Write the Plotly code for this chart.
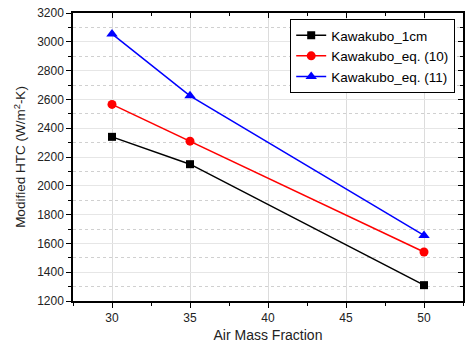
import plotly.graph_objects as go

air_mass_fraction = [30, 35, 50]
kawakubo_1cm = [2340, 2150, 1310]
kawakubo_eq10 = [2565, 2310, 1540]
kawakubo_eq11 = [3055, 2625, 1655]

series = [
    ("Kawakubo_1cm", kawakubo_1cm, "black", "square", 8),
    ("Kawakubo_eq. (10)", kawakubo_eq10, "red", "circle", 9),
    ("Kawakubo_eq. (11)", kawakubo_eq11, "blue", "triangle-up", 10),
]

fig = go.Figure()
for name, vals, col, sym, sz in series:
    fig.add_trace(go.Scatter(
        x=air_mass_fraction, y=vals, name=name, mode="lines+markers",
        line=dict(color=col, width=1.5),
        marker=dict(symbol=sym, size=sz, color=col),
    ))

font = "Liberation Sans, Arial, sans-serif"
xr = [27.5, 52.5]
yr = [1200, 3200]

fig.update_layout(
    template="none",
    width=465, height=344,
    margin=dict(l=73, r=2, t=13, b=43, autoexpand=False),
    paper_bgcolor="white", plot_bgcolor="white",
    font=dict(family=font, color="#222", size=12),
    showlegend=True,
    legend=dict(
        x=0.98, y=0.979, xanchor="right", yanchor="top",
        bgcolor="white", bordercolor="black", borderwidth=1,
        font=dict(size=13.5, color="black"),
        tracegroupgap=0, itemwidth=30,
    ),
    xaxis=dict(
        range=xr, tickvals=[30, 35, 40, 45, 50], automargin=False,
        ticks="outside", ticklen=5, tickwidth=1.2, tickcolor="black",
        minor=dict(tickvals=[27.5, 32.5, 37.5, 42.5, 47.5, 52.5], ticks="outside", ticklen=3, tickcolor="black", showgrid=False),
        showline=True, linecolor="black", linewidth=1.5,
        showgrid=True, gridcolor="#dcdcdc", gridwidth=1,
        zeroline=False,
        title=dict(text="Air Mass Fraction", font=dict(size=14, color="#222"), standoff=6),
        tickfont=dict(size=12),
    ),
    yaxis=dict(
        range=yr, dtick=200, tick0=1200, automargin=False,
        ticks="outside", ticklen=5, tickwidth=1.2, tickcolor="black",
        minor=dict(dtick=100, tick0=1300, ticks="outside", ticklen=3, tickcolor="black",
                   showgrid=True, gridcolor="#d0d0d0", griddash="dot", gridwidth=1),
        showline=True, linecolor="black", linewidth=1.5,
        showgrid=True, gridcolor="#e6e6e6", gridwidth=1,
        zeroline=False,
        title=dict(text="Modified HTC (W/m<sup>2</sup>-K)", font=dict(size=13.5, color="#222"), standoff=8),
        tickfont=dict(size=12),
    ),
    xaxis2=dict(
        overlaying="x", side="top", range=xr, tickvals=[30, 35, 40, 45, 50], automargin=False,
        ticks="inside", ticklen=5, tickcolor="black", showticklabels=False,
        minor=dict(tickvals=[32.5, 37.5, 42.5, 47.5], ticks="inside", ticklen=3, tickcolor="black"),
        showline=True, linecolor="black", linewidth=1.5, showgrid=False, zeroline=False,
    ),
    yaxis2=dict(
        overlaying="y", side="right", range=yr, dtick=200, tick0=1200, automargin=False,
        ticks="inside", ticklen=5, tickcolor="black", showticklabels=False,
        minor=dict(dtick=100, tick0=1300, ticks="inside", ticklen=3, tickcolor="black"),
        showline=True, linecolor="black", linewidth=1.5, showgrid=False, zeroline=False,
    ),
)
fig.add_trace(go.Scatter(x=[None], y=[None], xaxis="x2", yaxis="y2", showlegend=False, hoverinfo="skip"))

fig.write_html("out.html", config={"displayModeBar": False},
               post_script="document.body.style.margin='0px';document.body.style.overflow='hidden';")
